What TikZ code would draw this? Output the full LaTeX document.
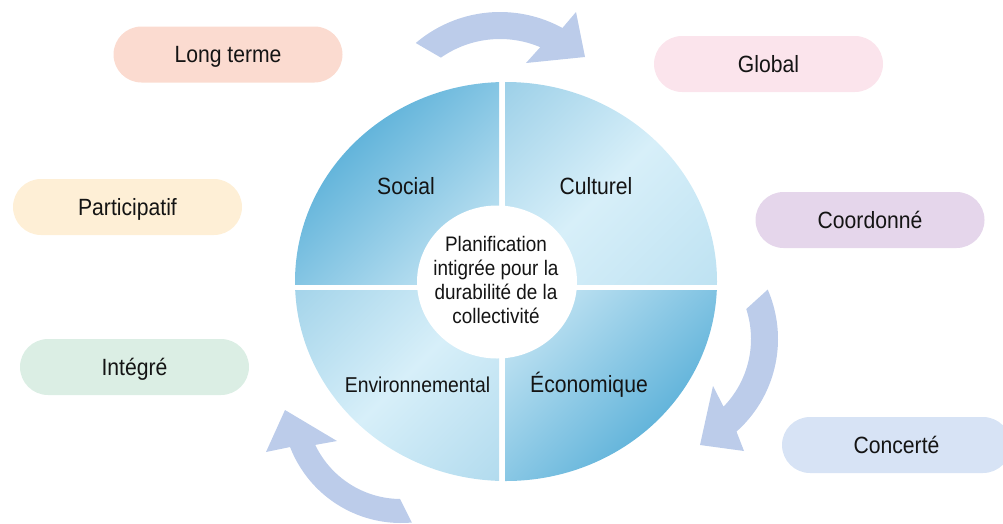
\documentclass[tikz,border=0pt]{standalone}
\usepackage{fontspec}
\setmainfont{Liberation Sans}[FakeStretch=0.9]

% pill fills
\definecolor{cLong}{HTML}{FBDBD0}
\definecolor{cGlobal}{HTML}{FBE4EC}
\definecolor{cPart}{HTML}{FEEFD6}
\definecolor{cCoord}{HTML}{E5D6EB}
\definecolor{cInteg}{HTML}{DBEEE4}
\definecolor{cConc}{HTML}{D7E3F5}
% cycle arrows and ink
\definecolor{cArrow}{HTML}{BCCCEA}
\definecolor{ink}{HTML}{141414}
% quadrant blues
\definecolor{qDeep}{HTML}{4FAAD5}
\definecolor{qDark}{HTML}{5CB1D9}
\definecolor{qPale}{HTML}{D3ECF7}
\definecolor{qMidA}{HTML}{9DD0E8}
\definecolor{qMidB}{HTML}{BEE2F2}
\definecolor{qMidC}{HTML}{A4D4EA}
\definecolor{qMidD}{HTML}{B2DBEE}
\definecolor{qLight}{HTML}{D7EFF9}

% diagonal shadings, one per quadrant (used with shading angle=-45)
\pgfdeclarehorizontalshading{socialshade}{100bp}{color(0bp)=(qDeep); color(33bp)=(qDark); color(85bp)=(qPale); color(100bp)=(qPale)}
\pgfdeclarehorizontalshading{ecoshade}{100bp}{color(0bp)=(qPale); color(15bp)=(qPale); color(67bp)=(qDark); color(100bp)=(qDeep)}
\pgfdeclarehorizontalshading{cultshade}{100bp}{color(0bp)=(qMidA); color(15bp)=(qMidA); color(50bp)=(qLight); color(85bp)=(qMidB); color(100bp)=(qMidB)}
\pgfdeclarehorizontalshading{envshade}{100bp}{color(0bp)=(qMidC); color(15bp)=(qMidC); color(50bp)=(qLight); color(85bp)=(qMidD); color(100bp)=(qMidD)}

\begin{document}
\begin{tikzpicture}[x=1pt,y=-1pt,
  pill/.style={rounded corners=28pt, minimum width=229pt, minimum height=56pt,
    inner sep=0pt, text=ink, font=\fontsize{23.5}{28}\selectfont,
    text height=16.8pt, text depth=0pt},
  quadlabel/.style={anchor=base, text=ink, inner sep=0pt, font=\fontsize{23.5}{28}\selectfont},
  hubtext/.style={align=center, text=ink, inner sep=0pt, font=\fontsize{21}{24}\selectfont},
  cyclearrow/.style={fill=cArrow}]

\clip (0,0) rectangle (1003,523);

% ---- the four pillars of the disc ----
\begin{scope}
  \clip (506,281.5) ellipse [x radius=211, y radius=199.5];
  \shade[shading=socialshade, shading angle=-45] (292,80) rectangle (499,284);
  \shade[shading=cultshade,   shading angle=-45] (505,80) rectangle (720,284);
  \shade[shading=envshade,    shading angle=-45] (292,290) rectangle (499,483);
  \shade[shading=ecoshade,    shading angle=-45] (505,290) rectangle (720,483);
\end{scope}
\fill[white] (497,282) ellipse [x radius=80, y radius=76.5];

\node[quadlabel] (social) at (406,194) {Social};
\node[quadlabel] (culturel) at (596,194) {Culturel};
\node[quadlabel, font=\fontsize{21.5}{26}\selectfont] (environ) at (417.5,392) {Environnemental};
\node[quadlabel] (economique) at (589,392) {Économique};

\node[hubtext] (hub) at (496,280) {Planification\\intigrée pour la\\durabilité de la\\collectivité};

% ---- qualities around the disc ----
\node[pill, fill=cLong]   (longterme)    at (228,54.5)  {Long terme};
\node[pill, fill=cGlobal] (global)       at (768.5,64)  {Global};
\node[pill, fill=cPart]   (participatif) at (127.5,207) {Participatif};
\node[pill, fill=cCoord]  (coordonne)    at (870,220)   {Coordonné};
\node[pill, fill=cInteg]  (integre)      at (134.5,367) {Intégré};
\node[pill, fill=cConc]   (concerte)     at (896.5,445) {Concerté};

% ---- curved block arrows ----
\fill[cyclearrow]
  plot[variable=\t, domain=-130.4:-61.3, samples=40] ({500+130*cos(\t)},{142+130*sin(\t)})
  -- (576,12) -- (585,57) -- (526,63)
  -- plot[variable=\t, domain=-67:-125, samples=40] ({500+103*cos(\t)},{142+103*sin(\t)})
  -- cycle;

\fill[cyclearrow]
  plot[variable=\t, domain=-23.5:48.3, samples=40] ({654+124*cos(\t)},{339+124*sin(\t)})
  -- (744,451) -- (700,445) -- (713,386)
  -- plot[variable=\t, domain=44.2:-18, samples=40] ({654+97*cos(\t)},{339+97*sin(\t)})
  -- cycle;

\fill[cyclearrow]
  plot[variable=\t, domain=84.8:158.8, samples=40] ({401+119*cos(\t)},{404+119*sin(\t)})
  -- (266,452) -- (285,410) -- (337,441)
  -- plot[variable=\t, domain=154.5:90.6, samples=40] ({401+95*cos(\t)},{404+95*sin(\t)})
  -- cycle;
\end{tikzpicture}
\end{document}
